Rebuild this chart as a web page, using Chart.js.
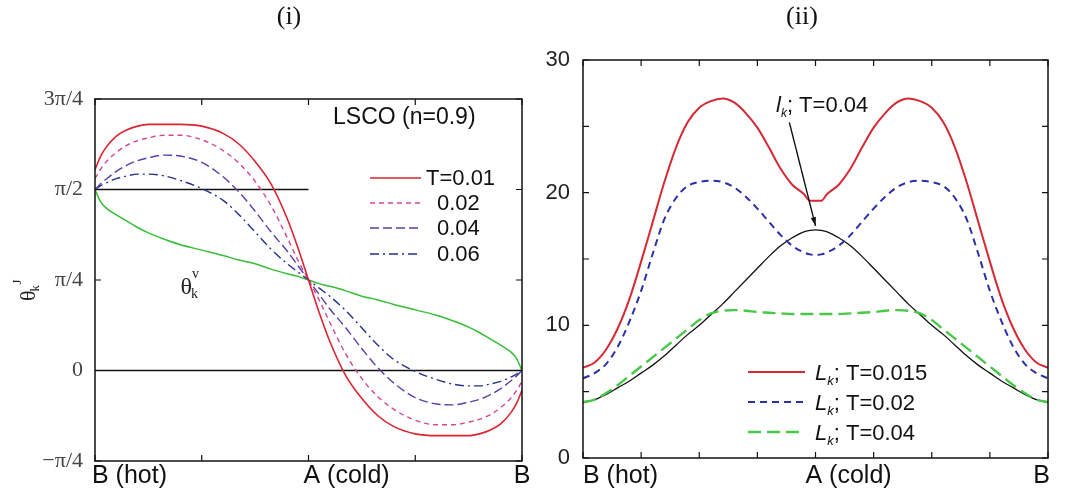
<!DOCTYPE html>
<html>
<head>
<meta charset="utf-8">
<script src="https://cdn.jsdelivr.net/npm/chart.js@4/dist/chart.umd.min.js"></script>
<style>
  body { margin: 0; background: #fff; }
  #wrap { position: relative; width: 1065px; height: 499px; }
  canvas { position: absolute; top: 0; }
</style>
</head>
<body>
<div id="wrap">
  <canvas id="angles" width="530" height="499" style="left:0"></canvas>
  <canvas id="lengths" width="535" height="499" style="left:530px"></canvas>
</div>
<script>
// --- (i) current angle along the Fermi surface, in units of pi/4 ---
const angleX = [0, 0.05, 0.1, 0.2, 0.3, 0.4, 0.5, 0.65, 0.8, 1.0, 1.2, 1.35, 1.5, 1.65, 1.8, 1.9, 2.0,
  2.1, 2.2, 2.35, 2.5, 2.65, 2.8, 3.0, 3.2, 3.35, 3.5, 3.6, 3.7, 3.8, 3.9, 3.95, 4.0];
const thetaT001 = [2.22, 2.36, 2.46, 2.59, 2.66, 2.70, 2.72, 2.72, 2.72, 2.70, 2.62, 2.50, 2.31, 2.06, 1.68, 1.36, 1.0,
  0.64, 0.32, -0.06, -0.31, -0.50, -0.62, -0.70, -0.72, -0.72, -0.72, -0.70, -0.66, -0.59, -0.46, -0.36, -0.22];
const thetaT002 = [2.12, 2.22, 2.30, 2.41, 2.49, 2.54, 2.57, 2.60, 2.60, 2.55, 2.43, 2.29, 2.09, 1.82, 1.47, 1.22, 1.0,
  0.78, 0.53, 0.18, -0.09, -0.29, -0.43, -0.55, -0.60, -0.60, -0.57, -0.54, -0.49, -0.41, -0.30, -0.22, -0.12];
const thetaT004 = [2.0, 2.06, 2.11, 2.20, 2.27, 2.32, 2.35, 2.38, 2.37, 2.30, 2.14, 1.97, 1.76, 1.53, 1.32, 1.16, 1.0,
  0.84, 0.68, 0.47, 0.24, 0.03, -0.14, -0.30, -0.37, -0.38, -0.35, -0.32, -0.27, -0.20, -0.11, -0.06, 0.0];
const thetaT006 = [2.0, 2.04, 2.07, 2.12, 2.15, 2.17, 2.17, 2.15, 2.10, 2.01, 1.88, 1.72, 1.53, 1.34, 1.18, 1.09, 1.0,
  0.91, 0.82, 0.66, 0.47, 0.28, 0.12, -0.01, -0.10, -0.15, -0.17, -0.17, -0.15, -0.12, -0.07, -0.04, 0.0];
const thetaV = [2.0, 1.87, 1.80, 1.72, 1.65, 1.58, 1.52, 1.45, 1.39, 1.33, 1.27, 1.22, 1.18, 1.12, 1.07, 1.04, 1.0,
  0.96, 0.93, 0.88, 0.82, 0.78, 0.73, 0.67, 0.61, 0.55, 0.48, 0.42, 0.35, 0.28, 0.20, 0.13, 0.0];
const halfPiX = [0, 2], halfPiY = [2, 2];
const zeroX = [0, 4], zeroY = [0, 0];
const angleTicks = [-1, 0, 1, 2, 3];
const angleTickLabels = ['\u2212\u03c0/4', '0', '\u03c0/4', '\u03c0/2', '3\u03c0/4'];
const angleLegend = ['T=0.01', '0.02', '0.04', '0.06'];
const angleLabelPos = [0, 2, 4];

// --- (ii) mean free paths ---
const lengthX = [0, 0.2, 0.4, 0.6, 0.8, 1.0, 1.2, 1.4, 1.6, 1.8, 2.0, 2.2, 2.4, 2.6, 2.8, 3.0, 3.2, 3.4, 3.6, 3.8, 3.9, 4.0,
  4.1, 4.2, 4.4, 4.6, 4.8, 5.0, 5.2, 5.4, 5.6, 5.8, 6.0, 6.2, 6.4, 6.6, 6.8, 7.0, 7.2, 7.4, 7.6, 7.8, 8.0];
const lenT0015 = [6.8, 7.2, 8.2, 9.8, 12.0, 14.8, 17.8, 20.8, 23.4, 25.3, 26.4, 26.9, 27.1, 26.8, 26.0, 24.9, 23.4, 21.8, 20.6, 19.9, 19.4, 19.4,
  19.4, 19.9, 20.6, 21.8, 23.4, 24.9, 26.0, 26.8, 27.1, 26.9, 26.4, 25.3, 23.4, 20.8, 17.8, 14.8, 12.0, 9.8, 8.2, 7.2, 6.8];
const lenT002 = [6.0, 6.4, 7.1, 8.4, 10.3, 12.6, 15.4, 18.0, 19.6, 20.5, 20.8, 20.9, 20.8, 20.4, 19.7, 18.8, 17.8, 16.8, 16.0, 15.5, 15.35, 15.3,
  15.35, 15.5, 16.0, 16.8, 17.8, 18.8, 19.7, 20.4, 20.8, 20.9, 20.8, 20.5, 19.6, 18.0, 15.4, 12.6, 10.3, 8.4, 7.1, 6.4, 6.0];
const lenT004 = [4.2, 4.4, 4.9, 5.5, 6.2, 6.9, 7.6, 8.3, 9.0, 9.7, 10.4, 10.9, 11.1, 11.15, 11.1, 11.0, 10.95, 10.9, 10.85, 10.85, 10.85, 10.85,
  10.85, 10.85, 10.85, 10.9, 10.95, 11.0, 11.1, 11.15, 11.1, 10.9, 10.4, 9.7, 9.0, 8.3, 7.6, 6.9, 6.2, 5.5, 4.9, 4.4, 4.2];
const mfpT004 = [4.2, 4.4, 4.8, 5.3, 5.8, 6.4, 7.0, 7.7, 8.5, 9.3, 10.0, 10.8, 11.6, 12.5, 13.4, 14.3, 15.2, 16.0, 16.6, 17.05, 17.15, 17.2,
  17.15, 17.05, 16.6, 16.0, 15.2, 14.3, 13.4, 12.5, 11.6, 10.8, 10.0, 9.3, 8.5, 7.7, 7.0, 6.4, 5.8, 5.3, 4.8, 4.4, 4.2];
const lengthLegend = ['T=0.015', 'T=0.02', 'T=0.04'];
const lengthLabelPos = [0, 4, 8];

const SANS = '"Liberation Sans", Arial, sans-serif';
const SERIF = '"Liberation Serif", "Times New Roman", serif';

function pts(xs, ys) {
  return xs.map((x, i) => ({ x: x, y: ys[i] }));
}

function line(label, xs, ys, color, width, dash) {
  return {
    label: label,
    data: pts(xs, ys),
    borderColor: color,
    borderWidth: width,
    borderDash: dash || [],
    pointRadius: 0,
    fill: false,
    cubicInterpolationMode: 'monotone'
  };
}

// text run with sub/superscripts: parts = [[text, font, dy], ...]
function drawParts(ctx, x, y, parts) {
  parts.forEach(p => {
    ctx.font = p[1];
    ctx.fillText(p[0], x, y + p[2]);
    x += ctx.measureText(p[0]).width;
  });
  return x;
}

// box with inward ticks on all sides, path labels under the x axis, panel title
function frame(cfg) {
  return {
    id: 'frame',
    afterDatasetsDraw(chart) {
      const { ctx, chartArea: a, scales: { x, y } } = chart;
      ctx.save();
      ctx.setLineDash([]);
      ctx.strokeStyle = '#111';
      ctx.lineWidth = 1.5;
      ctx.strokeRect(a.left, a.top, a.right - a.left, a.bottom - a.top);
      ctx.lineWidth = 1.2;
      ctx.beginPath();
      x.ticks.forEach(t => {
        const px = x.getPixelForValue(t.value);
        ctx.moveTo(px, a.bottom); ctx.lineTo(px, a.bottom - 6);
        ctx.moveTo(px, a.top); ctx.lineTo(px, a.top + 6);
      });
      y.ticks.forEach(t => {
        const py = y.getPixelForValue(t.value);
        ctx.moveTo(a.left, py); ctx.lineTo(a.left + 6, py);
        ctx.moveTo(a.right, py); ctx.lineTo(a.right - 6, py);
      });
      ctx.stroke();

      ctx.fillStyle = '#111';
      ctx.font = '25px ' + SANS;
      ctx.textBaseline = 'alphabetic';
      cfg.labelPos.forEach((v, i) => {
        ctx.textAlign = cfg.labelAlign[i];
        ctx.fillText(pathLabels[i], x.getPixelForValue(v) + cfg.labelShift[i], 483);
      });

      ctx.textAlign = 'center';
      ctx.textBaseline = 'middle';
      ctx.font = '26px ' + SERIF;
      ctx.fillText(cfg.title, cfg.titleX, 17);
      ctx.restore();
    }
  };
}

const pathLabels = ['B (hot)', 'A (cold)', 'B'];

Chart.defaults.font.family = SANS;
Chart.defaults.color = '#333';

// ---------- panel (i) ----------
const angleSets = [
  line(angleLegend[0], angleX, thetaT001, '#dc2430', 1.6),
  line(angleLegend[1], angleX, thetaT002, '#d2449c', 1.4, [5, 4]),
  line(angleLegend[2], angleX, thetaT004, '#5b3fa6', 1.4, [9, 4]),
  line(angleLegend[3], angleX, thetaT006, '#26318f', 1.4, [9, 4, 2, 4]),
  line('theta_v', angleX, thetaV, '#36be36', 1.5),
  line('pi/2', halfPiX, halfPiY, '#111', 1.5),
  line('zero', zeroX, zeroY, '#111', 1.5)
];

new Chart(document.getElementById('angles'), {
  type: 'line',
  data: { datasets: angleSets },
  options: {
    responsive: false,
    animation: false,
    devicePixelRatio: 1,
    layout: { padding: { top: 99, right: 8, left: 0, bottom: 0 } },
    plugins: { legend: { display: false }, tooltip: { enabled: false } },
    scales: {
      x: {
        type: 'linear', min: 0, max: 4,
        ticks: { display: false, stepSize: 1 },
        grid: { display: false }, border: { display: false },
        afterFit: s => { s.height = 38; }
      },
      y: {
        type: 'linear', min: -1, max: 3,
        afterBuildTicks: s => { s.ticks = angleTicks.map(v => ({ value: v })); },
        ticks: {
          padding: 12,
          color: '#444',
          font: { family: SERIF, size: 22 },
          callback: v => angleTickLabels[angleTicks.indexOf(v)]
        },
        grid: { display: false, drawTicks: false }, border: { display: false },
        afterFit: s => { s.width = 95; }
      }
    }
  },
  plugins: [
    frame({ title: '(i)', titleX: 289, labelPos: angleLabelPos, labelAlign: ['left', 'left', 'center'], labelShift: [-3, -5, 0] }),
    {
      id: 'angleNotes',
      afterDraw(chart) {
        const { ctx, scales: { x, y } } = chart;
        ctx.save();
        ctx.fillStyle = '#111';
        ctx.textAlign = 'left';
        ctx.textBaseline = 'middle';
        ctx.font = '23px ' + SANS;
        ctx.fillText('LSCO (n=0.9)', 333, 118);

        // legend samples
        const rows = [178, 203, 228, 254];
        ctx.font = '22px ' + SANS;
        rows.forEach((ry, i) => {
          const ds = chart.data.datasets[i];
          ctx.strokeStyle = ds.borderColor;
          ctx.lineWidth = ds.borderWidth;
          ctx.setLineDash(ds.borderDash);
          ctx.beginPath();
          ctx.moveTo(370, ry); ctx.lineTo(421, ry);
          ctx.stroke();
          ctx.fillText(angleLegend[i], i === 0 ? 426 : 437, ry + 1);
        });
        ctx.setLineDash([]);

        // theta_k^v next to the green curve
        ctx.textBaseline = 'alphabetic';
        ctx.fillStyle = '#222';
        const vx = x.getPixelForValue(0.8), vy = y.getPixelForValue(0.84);
        let ex = drawParts(ctx, vx, vy, [['\u03b8', '24px ' + SERIF, 0]]);
        drawParts(ctx, ex - 1, vy, [['k', '14px ' + SERIF, 4]]);
        drawParts(ctx, ex, vy, [['v', '14px ' + SERIF, -16]]);

        // y axis title theta_k^J, rotated
        ctx.translate(35, 301);
        ctx.rotate(-Math.PI / 2);
        ex = drawParts(ctx, 0, 0, [['\u03b8', '22px ' + SERIF, 0]]);
        drawParts(ctx, ex - 1, 0, [['k', '13px ' + SERIF, 4]]);
        drawParts(ctx, ex + 6, 0, [['J', '13px ' + SERIF, -14]]);
        ctx.restore();
      }
    }
  ]
});

// ---------- panel (ii) ----------
const lengthSets = [
  line(lengthLegend[0], lengthX, lenT0015, '#d42a35', 2),
  line(lengthLegend[1], lengthX, lenT002, '#2b2fa8', 2, [7, 5]),
  line(lengthLegend[2], lengthX, lenT004, '#48c848', 2.4, [13, 6]),
  line('l_k T=0.04', lengthX, mfpT004, '#111', 1.3)
];

const arrowFrom = { x: 3.55, y: 25.3 };
const arrowTo = { x: 4.0, y: 17.5 };

new Chart(document.getElementById('lengths'), {
  type: 'line',
  data: { datasets: lengthSets },
  options: {
    responsive: false,
    animation: false,
    devicePixelRatio: 1,
    layout: { padding: { top: 60, right: 17, left: 0, bottom: 0 } },
    plugins: { legend: { display: false }, tooltip: { enabled: false } },
    scales: {
      x: {
        type: 'linear', min: 0, max: 8,
        ticks: { display: false, stepSize: 1 },
        grid: { display: false }, border: { display: false },
        afterFit: s => { s.height = 41; }
      },
      y: {
        type: 'linear', min: 0, max: 30,
        ticks: {
          stepSize: 5,
          padding: 13,
          color: '#222',
          font: { size: 22 },
          callback: v => (v % 10 === 0 ? v : '')
        },
        grid: { display: false, drawTicks: false }, border: { display: false },
        afterFit: s => { s.width = 53; }
      }
    }
  },
  plugins: [
    frame({ title: '(ii)', titleX: 272, labelPos: lengthLabelPos, labelAlign: ['left', 'left', 'right'], labelShift: [0, -10, 2] }),
    {
      id: 'lengthNotes',
      afterDraw(chart) {
        const { ctx, scales: { x, y } } = chart;
        ctx.save();
        ctx.fillStyle = '#111';
        ctx.textAlign = 'left';
        ctx.textBaseline = 'alphabetic';

        // legend
        const rows = [372, 402, 432];
        rows.forEach((ry, i) => {
          const ds = chart.data.datasets[i];
          ctx.strokeStyle = ds.borderColor;
          ctx.lineWidth = ds.borderWidth;
          ctx.setLineDash(ds.borderDash);
          ctx.beginPath();
          ctx.moveTo(218, ry); ctx.lineTo(275, ry);
          ctx.stroke();
          drawParts(ctx, 285, ry + 8, [
            ['L', 'italic 22px ' + SANS, 0],
            ['k', 'italic 13px ' + SANS, 5],
            ['; ' + lengthLegend[i], '22px ' + SANS, 0]
          ]);
        });
        ctx.setLineDash([]);

        // l_k annotation with arrow to the peak of the black curve
        drawParts(ctx, 246, 112, [
          ['l', 'italic 22px ' + SANS, 0],
          ['k', 'italic 12px ' + SANS, 5],
          ['; T=0.04', '22px ' + SANS, 0]
        ]);
        const x0 = x.getPixelForValue(arrowFrom.x), y0 = y.getPixelForValue(arrowFrom.y);
        const x1 = x.getPixelForValue(arrowTo.x), y1 = y.getPixelForValue(arrowTo.y);
        const ang = Math.atan2(y1 - y0, x1 - x0);
        ctx.strokeStyle = '#111';
        ctx.lineWidth = 1.4;
        ctx.beginPath();
        ctx.moveTo(x0, y0); ctx.lineTo(x1, y1);
        ctx.stroke();
        ctx.beginPath();
        ctx.moveTo(x1, y1);
        ctx.lineTo(x1 - 9 * Math.cos(ang - 0.3), y1 - 9 * Math.sin(ang - 0.3));
        ctx.lineTo(x1 - 9 * Math.cos(ang + 0.3), y1 - 9 * Math.sin(ang + 0.3));
        ctx.closePath();
        ctx.fill();
        ctx.restore();
      }
    }
  ]
});
</script>
</body>
</html>
